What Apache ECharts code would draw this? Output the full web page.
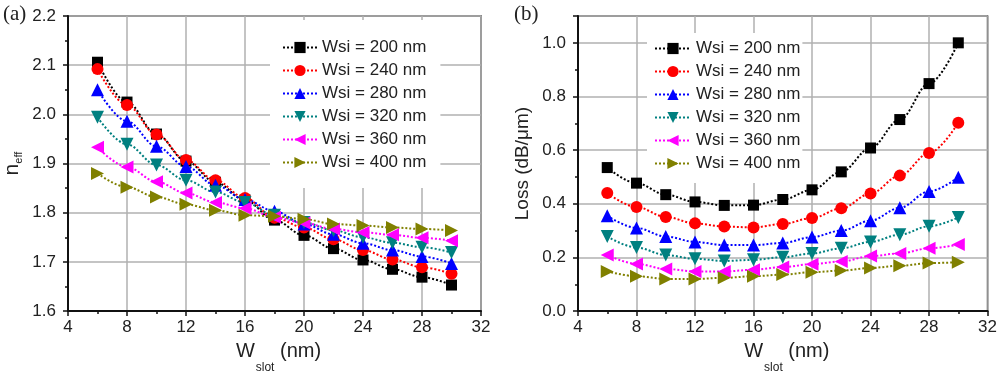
<!DOCTYPE html>
<html>
<head>
<meta charset="utf-8">
<script src="https://cdn.jsdelivr.net/npm/echarts@6/dist/echarts.min.js"></script>
<style>
html,body{margin:0;padding:0;background:#fff;}
#chart{width:1000px;height:379px;}
</style>
</head>
<body>
<div id="chart"></div>
<script>
// ---- data ----
var wslot = [6, 8, 10, 12, 14, 16, 18, 20, 22, 24, 26, 28, 30];
var seriesNames = ['Wsi = 200 nm', 'Wsi = 240 nm', 'Wsi = 280 nm', 'Wsi = 320 nm', 'Wsi = 360 nm', 'Wsi = 400 nm'];

var neff200 = [2.106, 2.025, 1.960, 1.905, 1.862, 1.826, 1.785, 1.754, 1.727, 1.704, 1.685, 1.669, 1.653];
var neff240 = [2.092, 2.019, 1.959, 1.907, 1.866, 1.830, 1.790, 1.770, 1.746, 1.724, 1.705, 1.689, 1.676];
var neff280 = [2.050, 1.986, 1.935, 1.894, 1.856, 1.827, 1.803, 1.777, 1.756, 1.738, 1.724, 1.711, 1.697];
var neff320 = [1.994, 1.939, 1.897, 1.866, 1.842, 1.821, 1.795, 1.780, 1.764, 1.750, 1.739, 1.730, 1.719];
var neff360 = [1.933, 1.893, 1.863, 1.840, 1.821, 1.809, 1.791, 1.779, 1.767, 1.760, 1.755, 1.749, 1.743];
var neff400 = [1.880, 1.852, 1.832, 1.817, 1.805, 1.795, 1.793, 1.787, 1.777, 1.774, 1.770, 1.767, 1.764];

var loss200 = [0.535, 0.477, 0.434, 0.407, 0.394, 0.395, 0.416, 0.452, 0.519, 0.608, 0.714, 0.848, 1.000];
var loss240 = [0.440, 0.388, 0.351, 0.327, 0.315, 0.312, 0.325, 0.347, 0.383, 0.438, 0.505, 0.589, 0.702];
var loss280 = [0.355, 0.310, 0.278, 0.258, 0.246, 0.246, 0.254, 0.276, 0.300, 0.337, 0.385, 0.446, 0.499];
var loss320 = [0.278, 0.237, 0.209, 0.195, 0.187, 0.191, 0.201, 0.215, 0.234, 0.258, 0.285, 0.316, 0.349];
var loss360 = [0.209, 0.176, 0.157, 0.148, 0.148, 0.154, 0.164, 0.175, 0.185, 0.205, 0.215, 0.234, 0.248];
var loss400 = [0.148, 0.130, 0.120, 0.120, 0.124, 0.130, 0.136, 0.145, 0.151, 0.161, 0.169, 0.179, 0.182];

var neffSets = [neff200, neff240, neff280, neff320, neff360, neff400];
var lossSets = [loss200, loss240, loss280, loss320, loss360, loss400];

// ---- styles ----
var colors = ['#000000', '#ff0000', '#0000ff', '#008080', '#ff00ff', '#808000'];
var symbols = ['rect', 'circle', 'triangle', 'triangle', 'triangle', 'triangle'];
var rotations = [0, 0, 0, 180, 90, -90];
var sizes = [11, 12, 13, 13, 13, 13];
var FONT = 'Liberation Sans, Arial, sans-serif';

function pairs(ys) {
  return wslot.map(function (x, i) { return [x, ys[i]]; });
}

function makeSeries(sets, idx) {
  return sets.map(function (ys, k) {
    return {
      name: seriesNames[k],
      type: 'line',
      xAxisIndex: idx,
      yAxisIndex: idx,
      data: pairs(ys),
      smooth: 0.35,
      smoothMonotone: 'x',
      symbol: symbols[k],
      symbolRotate: rotations[k],
      symbolSize: sizes[k],
      showAllSymbol: true,
      color: colors[k],
      itemStyle: { color: colors[k] },
      lineStyle: { color: colors[k], type: 'dotted', width: 2 },
      animation: false
    };
  });
}

function xAxis(gi) {
  return {
    type: 'value', gridIndex: gi, min: 4, max: 32, interval: 4,
    name: '{w|W}{s|slot}{w| (nm)}',
    nameLocation: 'middle', nameGap: 24,
    nameTextStyle: {
      padding: [0, 0, 0, 8],
      rich: {
        w: { fontFamily: FONT, fontSize: 20, color: '#222', lineHeight: 22, verticalAlign: 'top' },
        s: { fontFamily: FONT, fontSize: 12, color: '#222', padding: [21, 0, 0, 1], verticalAlign: 'top' }
      }
    },
    axisLine: { show: true, onZero: false, lineStyle: { color: '#111', width: 2 } },
    axisTick: { show: true, inside: false, length: 5, lineStyle: { color: '#111', width: 1.5 } },
    minorTick: { show: true, splitNumber: 2, length: 3, lineStyle: { color: '#111', width: 1.5 } },
    axisLabel: { fontFamily: FONT, fontSize: 17, color: '#222', margin: 8 },
    splitLine: { show: true, lineStyle: { color: '#b0b0b0', width: 1.5 } }
  };
}

function yAxis(gi, min, max, interval, name, rich, gap) {
  return {
    type: 'value', gridIndex: gi, min: min, max: max, interval: interval,
    name: name, nameLocation: 'middle', nameGap: gap, nameRotate: 90,
    nameTextStyle: { fontFamily: FONT, fontSize: 19, color: '#222', rich: rich },
    axisLine: { show: true, onZero: false, lineStyle: { color: '#111', width: 2 } },
    axisTick: { show: true, inside: false, length: 5, lineStyle: { color: '#111', width: 1.5 } },
    minorTick: { show: true, splitNumber: 2, length: 3, lineStyle: { color: '#111', width: 1.5 } },
    axisLabel: {
      fontFamily: FONT, fontSize: 17, color: '#222', margin: 12,
      showMaxLabel: max === 1.1 ? false : true,
      formatter: function (v) { return v.toFixed(1); }
    },
    splitLine: { show: true, lineStyle: { color: '#b0b0b0', width: 1.5 } }
  };
}

var legendBase = {
  orient: 'vertical',
  backgroundColor: '#ffffff',
  itemHeight: 14,
  itemGap: 6,
  textStyle: { fontFamily: FONT, fontSize: 17, color: '#222' },
  data: seriesNames,
  selectedMode: false
};

var chart = echarts.init(document.getElementById('chart'), null, { renderer: 'canvas' });
chart.setOption({
  backgroundColor: '#ffffff',
  animation: false,
  title: [
    { text: '(a)', left: -2, top: -1, textStyle: { fontFamily: 'Liberation Serif, Times New Roman, serif', fontSize: 21, fontWeight: 'normal', color: '#222' } },
    { text: '(b)', left: 509, top: -1, textStyle: { fontFamily: 'Liberation Serif, Times New Roman, serif', fontSize: 21, fontWeight: 'normal', color: '#222' } }
  ],
  grid: [
    { left: 68, top: 16, width: 413, height: 301, show: true, borderColor: '#333', borderWidth: 1.5, backgroundColor: 'transparent' },
    { left: 578, top: 16, width: 412, height: 301, show: true, borderColor: '#333', borderWidth: 1.5, backgroundColor: 'transparent' }
  ],
  legend: [
    Object.assign({}, legendBase, { left: 270, top: 20, itemWidth: 34, padding: [19, 14, 17, 12] }),
    Object.assign({}, legendBase, { left: 647, top: 33, itemWidth: 36, padding: [7, 2, 11, 7] })
  ],
  xAxis: [xAxis(0), xAxis(1)],
  yAxis: [
    yAxis(0, 1.6, 2.2, 0.1, '{n|n}{e|eff}', {
      n: { fontFamily: FONT, fontSize: 21, color: '#222', lineHeight: 24, verticalAlign: 'top' },
      e: { fontFamily: FONT, fontSize: 11, color: '#222', padding: [11, 0, 0, 0], verticalAlign: 'top' }
    }, 42),
    yAxis(1, 0, 1.1, 0.2, 'Loss (dB/\u03bcm)', null, 46)
  ],
  series: makeSeries(neffSets, 0).concat(makeSeries(lossSets, 1))
});
</script>
</body>
</html>
